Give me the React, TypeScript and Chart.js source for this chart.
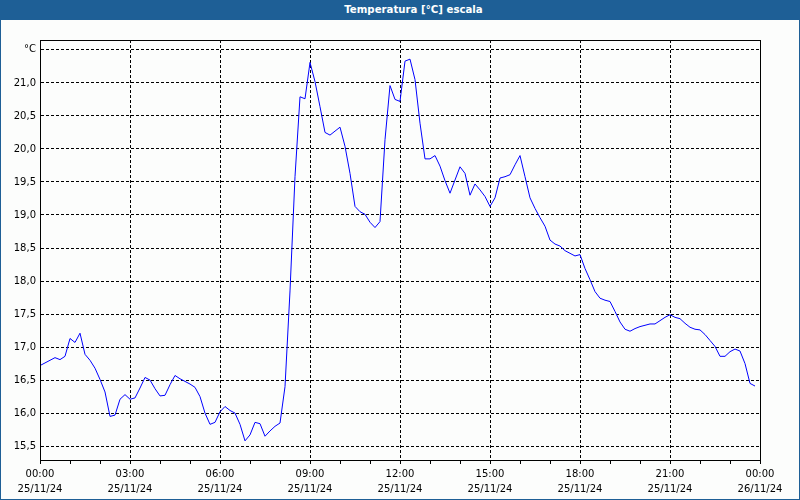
import React, { useEffect, useRef } from "react";
import { Chart, registerables } from "chart.js";

Chart.register(...registerables);

const TITLE = "Temperatura [°C] escala";
const UNIT = "°C";
const STEP_MINUTES = 10;

const temperature: number[] = [
  16.72, 16.76, 16.8, 16.84, 16.81, 16.86, 17.13, 17.07, 17.21, 16.89,
  16.8, 16.68, 16.51, 16.32, 15.95, 15.97, 16.21, 16.28, 16.21, 16.23,
  16.38, 16.54, 16.5, 16.37, 16.26, 16.27, 16.43, 16.57, 16.52, 16.48,
  16.44, 16.39, 16.25, 16.0, 15.83, 15.86, 16.02, 16.1, 16.04, 16.0,
  15.83, 15.58, 15.67, 15.86, 15.84, 15.65, 15.73, 15.8, 15.85, 16.4,
  17.85, 19.58, 20.79, 20.76, 21.31, 21.02, 20.64, 20.25, 20.21, 20.27,
  20.33, 20.04, 19.63, 19.13, 19.05, 19.01, 18.89, 18.81, 18.9, 20.14,
  20.96, 20.75, 20.72, 21.33, 21.36, 21.05, 20.39, 19.85, 19.85, 19.9,
  19.74, 19.52, 19.33, 19.53, 19.73, 19.63, 19.3, 19.47, 19.38, 19.28,
  19.13, 19.26, 19.56, 19.58, 19.61, 19.76, 19.9, 19.58, 19.26, 19.1,
  18.96, 18.83, 18.62, 18.56, 18.53, 18.46, 18.42, 18.38, 18.4, 18.19,
  18.02, 17.84, 17.74, 17.71, 17.69, 17.54, 17.38, 17.27, 17.24, 17.28,
  17.31, 17.33, 17.35, 17.35, 17.4, 17.45, 17.49, 17.45, 17.43, 17.36,
  17.3, 17.27, 17.26, 17.19, 17.1, 17.01, 16.86, 16.86, 16.93, 16.97,
  16.94, 16.75, 16.45, 16.41,
];

const timeLabels = ["00:00", "03:00", "06:00", "09:00", "12:00", "15:00", "18:00", "21:00", "00:00"];
const dateLabels = ["25/11/24", "25/11/24", "25/11/24", "25/11/24", "25/11/24", "25/11/24", "25/11/24", "25/11/24", "26/11/24"];

const Y_MIN = 15.29;
const Y_MAX = 21.65;
const Y_TOP_TICK = 21.5;

const FONT = "'DejaVu Sans', sans-serif";
const BLUE = "#1e5f96";

const framePlugin = {
  id: "frame",
  afterDraw(chart: any) {
    const { ctx, chartArea } = chart;
    ctx.save();
    ctx.strokeStyle = "#000";
    ctx.lineWidth = 1;
    ctx.setLineDash([]);
    ctx.strokeRect(
      Math.round(chartArea.left) + 0.5,
      Math.round(chartArea.top) + 0.5,
      Math.round(chartArea.right - chartArea.left),
      Math.round(chartArea.bottom - chartArea.top)
    );
    ctx.restore();
  },
};

export default function App() {
  const ref = useRef<HTMLCanvasElement | null>(null);

  useEffect(() => {
    if (!ref.current) return;
    const data = temperature.map((y, i) => ({ x: i * STEP_MINUTES, y }));
    const chart = new Chart(ref.current, {
      type: "line",
      data: {
        datasets: [
          {
            data,
            borderColor: "#0000ff",
            borderWidth: 1,
            pointRadius: 0,
            tension: 0,
            fill: false,
          },
        ],
      },
      options: {
        animation: false,
        responsive: false,
        maintainAspectRatio: false,
        layout: { padding: { top: 40, right: 40, left: 0, bottom: 0 } },
        plugins: {
          legend: { display: false },
          title: { display: false },
          tooltip: { enabled: false },
        },
        scales: {
          x: {
            type: "linear",
            min: 0,
            max: 1440,
            afterFit: (s: any) => {
              s.height = 40;
            },
            border: { display: true, color: "#000", width: 1, dash: [3, 2] },
            grid: {
              color: (c: any) => (c.tick && c.tick.value % 180 === 0 ? "#000" : "rgba(0,0,0,0)"),
              lineWidth: 1,
              drawTicks: true,
              tickLength: 4,
              tickColor: "#000",
              tickBorderDash: [],
            },
            ticks: {
              stepSize: 60,
              autoSkip: false,
              maxRotation: 0,
              minRotation: 0,
              padding: 3,
              color: "#000",
              font: { family: FONT, size: 10, lineHeight: 1.5 },
              callback: (v: any) => {
                const n = Number(v);
                if (n % 180 !== 0) return "";
                const idx = n / 180;
                return [timeLabels[idx], dateLabels[idx]];
              },
            },
          },
          y: {
            type: "linear",
            min: Y_MIN,
            max: Y_MAX,
            afterFit: (s: any) => {
              s.width = 40;
            },
            border: { display: true, color: "#000", width: 1, dash: [3, 2] },
            grid: {
              color: "#000",
              lineWidth: 1,
              drawTicks: false,
            },
            ticks: {
              stepSize: 0.5,
              includeBounds: false,
              padding: 4,
              color: "#000",
              font: { family: FONT, size: 10 },
              callback: (v: any) => {
                const n = Number(v);
                if (Math.abs(n - Y_TOP_TICK) < 1e-6) return UNIT;
                return n.toFixed(1).replace(".", ",");
              },
            },
          },
        },
      },
      plugins: [framePlugin],
    });
    return () => chart.destroy();
  }, []);

  return (
    <div
      style={{
        position: "fixed",
        left: 0,
        top: 0,
        width: 800,
        height: 500,
        background: "#fcfdfc",
        overflow: "hidden",
      }}
    >
      <canvas ref={ref} width={800} height={500} style={{ position: "absolute", left: 0, top: 0, width: 800, height: 500 }} />
      <div
        style={{
          position: "absolute",
          left: 0,
          top: 0,
          width: 800,
          height: 20,
          boxSizing: "border-box",
          paddingLeft: 27,
          background: BLUE,
          color: "#fff",
          fontFamily: FONT,
          fontWeight: "bold",
          fontSize: 10.2,
          lineHeight: "20px",
          textAlign: "center",
        }}
      >
        {TITLE}
      </div>
      <div
        style={{
          position: "absolute",
          left: 0,
          top: 0,
          width: 800,
          height: 500,
          boxSizing: "border-box",
          border: `1px solid ${BLUE}`,
          pointerEvents: "none",
        }}
      />
    </div>
  );
}
